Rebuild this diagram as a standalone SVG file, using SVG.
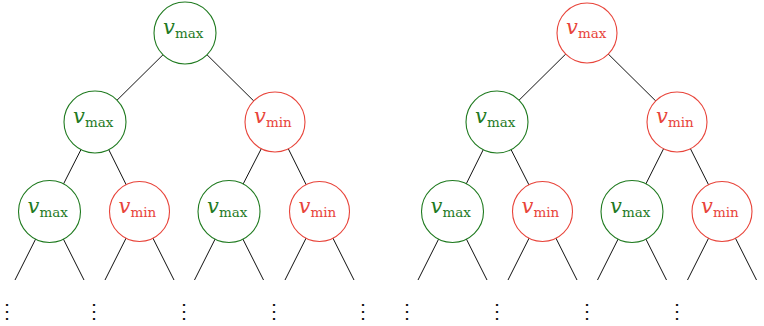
<svg xmlns="http://www.w3.org/2000/svg" width="764" height="326" viewBox="0 0 764 326">
<style>
.e{stroke:#111;stroke-width:1;fill:none}
.g{fill:#fff;stroke:#1f7a1f;stroke-width:1.1}
.r{fill:#fff;stroke:#e8443a;stroke-width:1.1}
text{font-family:"DejaVu Serif","Liberation Serif",serif}
.tg{fill:#1f7a1f}
.tr{fill:#e8443a}
.v{font-style:italic;font-size:21px}
.s{font-size:13.5px}
.d{font-size:20px;fill:#111}
</style>
<g id="connectors">
<path class="e" d="M185,33L95,122M185,33L275,122M95,122L49.5,211.5M95,122L139.5,211.5M275,122L229,211.5M275,122L319.5,211.5"/>
<path class="e" d="M49.5,211.5L15,280M49.5,211.5L84,280M139.5,211.5L105,280M139.5,211.5L174,280M229,211.5L194.5,280M229,211.5L263.5,280M319.5,211.5L285,280M319.5,211.5L354,280"/>
<path class="e" d="M587,33L497,122M587,33L677,122M497,122L452.5,211.5M497,122L542.5,211.5M677,122L632,211.5M677,122L722,211.5"/>
<path class="e" d="M452.5,211.5L418,280M452.5,211.5L487,280M542.5,211.5L508,280M542.5,211.5L577,280M632,211.5L597.5,280M632,211.5L666.5,280M722,211.5L687.5,280M722,211.5L756.5,280"/>
</g>
<g id="L0"><circle class="g" cx="185" cy="33" r="31"/><text class="tg" x="163" y="34"><tspan class="v">v</tspan><tspan class="s" dy="4">max</tspan></text></g>
<g id="L1a"><circle class="g" cx="95" cy="122" r="31"/><text class="tg" x="73" y="123"><tspan class="v">v</tspan><tspan class="s" dy="4">max</tspan></text></g>
<g id="L1b"><circle class="r" cx="275" cy="122" r="30"/><text class="tr" x="254" y="123"><tspan class="v">v</tspan><tspan class="s" dy="4">min</tspan></text></g>
<g id="L2a"><circle class="g" cx="49.5" cy="211.5" r="31"/><text class="tg" x="27.5" y="212.5"><tspan class="v">v</tspan><tspan class="s" dy="4">max</tspan></text></g>
<g id="L2b"><circle class="r" cx="139.5" cy="211.5" r="30"/><text class="tr" x="118.5" y="212.5"><tspan class="v">v</tspan><tspan class="s" dy="4">min</tspan></text></g>
<g id="L2c"><circle class="g" cx="229" cy="211.5" r="31"/><text class="tg" x="207" y="212.5"><tspan class="v">v</tspan><tspan class="s" dy="4">max</tspan></text></g>
<g id="L2d"><circle class="r" cx="319.5" cy="211.5" r="30"/><text class="tr" x="298.5" y="212.5"><tspan class="v">v</tspan><tspan class="s" dy="4">min</tspan></text></g>
<g id="R0"><circle class="r" cx="587" cy="33" r="30"/><text class="tr" x="566" y="34"><tspan class="v">v</tspan><tspan class="s" dy="4">max</tspan></text></g>
<g id="R1a"><circle class="g" cx="497" cy="122" r="31"/><text class="tg" x="475" y="123"><tspan class="v">v</tspan><tspan class="s" dy="4">max</tspan></text></g>
<g id="R1b"><circle class="r" cx="677" cy="122" r="30"/><text class="tr" x="656" y="123"><tspan class="v">v</tspan><tspan class="s" dy="4">min</tspan></text></g>
<g id="R2a"><circle class="g" cx="452.5" cy="211.5" r="31"/><text class="tg" x="430.5" y="212.5"><tspan class="v">v</tspan><tspan class="s" dy="4">max</tspan></text></g>
<g id="R2b"><circle class="r" cx="542.5" cy="211.5" r="30"/><text class="tr" x="521.5" y="212.5"><tspan class="v">v</tspan><tspan class="s" dy="4">min</tspan></text></g>
<g id="R2c"><circle class="g" cx="632" cy="211.5" r="31"/><text class="tg" x="610" y="212.5"><tspan class="v">v</tspan><tspan class="s" dy="4">max</tspan></text></g>
<g id="R2d"><circle class="r" cx="722" cy="211.5" r="30"/><text class="tr" x="701" y="212.5"><tspan class="v">v</tspan><tspan class="s" dy="4">min</tspan></text></g>
<g id="dots" class="d" text-anchor="middle">
<text x="6.5" y="318">⋮</text><text x="94" y="318">⋮</text><text x="184" y="318">⋮</text><text x="274" y="318">⋮</text><text x="363" y="318">⋮</text>
<text x="407" y="318">⋮</text><text x="497" y="318">⋮</text><text x="587" y="318">⋮</text><text x="677" y="318">⋮</text>
</g>
</svg>
